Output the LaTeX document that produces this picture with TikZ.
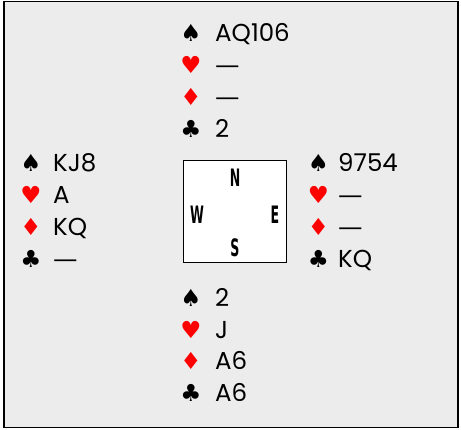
\documentclass[tikz,border=0pt]{standalone}
\usepackage{fontspec}
\setmainfont{Poppins}
\newfontfamily\suitfont{DejaVu Sans}
\newfontfamily\compassfont[FakeStretch=0.58]{DejaVu Sans Condensed}
\usetikzlibrary{positioning}
\definecolor{TableGray}{RGB}{236,236,236}
\definecolor{SuitRed}{RGB}{255,0,0}
\tikzset{
  suit/.style={font=\suitfont\fontsize{23.5}{23.5}\selectfont, anchor=base, inner sep=0pt},
  holding/.style={font=\fontsize{24.5}{24.5}\selectfont, anchor=base west, inner sep=0pt},
  compass/.style={font=\compassfont\bfseries\fontsize{24}{24}\selectfont, anchor=base, inner sep=0pt},
  tablebox/.style={draw=black, fill=white, line width=1pt, minimum width=103pt, minimum height=102pt, inner sep=0pt},
}
\newcommand{\void}{{\suitfont —}}
% one hand: name, suit x, text x, first baseline, spades, hearts, diamonds, clubs
\newcommand{\handrows}[8]{%
  \node[suit] (#1S) at (#2,#4) {♠};
  \node[holding] (#1s) at (#3,#4) {#5};
  \node[suit, SuitRed] (#1H) at (#2,{#4+31.7}) {♥};
  \node[holding] (#1h) at (#3,{#4+31.7}) {#6};
  \node[suit, SuitRed] (#1D) at (#2,{#4+63.4}) {♦};
  \node[holding] (#1d) at (#3,{#4+63.4}) {#7};
  \node[suit] (#1C) at (#2,{#4+95.1}) {♣};
  \node[holding] (#1c) at (#3,{#4+95.1}) {#8};
}

\begin{document}
\begin{tikzpicture}[x=1pt, y=-1pt]
    \useasboundingbox (0,0) rectangle (461,430);
    % Table
    \draw[fill=TableGray, line width=1.5pt] (4,1.5) rectangle (458,427.5);
    \node[tablebox] (table) at (234.5,212) {};

    % Compass
    \node[compass] (north) at (235,186.7) {N};
    \node[compass] (west) at (197,224) {W};
    \node[compass] (east) at (275,224) {E};
    \node[compass] (south) at (235,256.7) {S};

    % Hands
    \handrows{n}{191}{215}{42}{AQ106}{\void}{\void}{2}
    \handrows{w}{31}{53}{172}{KJ8}{A}{KQ}{\void}
    \handrows{e}{318.5}{338}{172}{9754}{\void}{\void}{KQ}
    \handrows{s}{191}{215}{306.5}{2}{J}{A6}{A6}
\end{tikzpicture}
\end{document}
